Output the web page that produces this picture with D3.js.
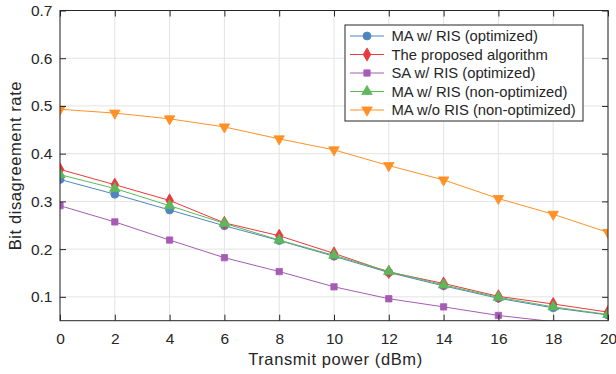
<!DOCTYPE html>
<html>
<head>
<meta charset="utf-8">
<script src="https://cdn.jsdelivr.net/npm/d3@7"></script>
<style>
html,body{margin:0;padding:0;background:#fff;}
svg text{font-family:"Liberation Sans",Arial,Helvetica,sans-serif;fill:#262626;}
</style>
</head>
<body>
<svg id="chart" width="616" height="374"></svg>
<script>
const xValues = [0, 2, 4, 6, 8, 10, 12, 14, 16, 18, 20];
const seriesNames = [
  "MA w/ RIS (optimized)",
  "The proposed algorithm",
  "SA w/ RIS (optimized)",
  "MA w/ RIS (non-optimized)",
  "MA w/o RIS (non-optimized)"
];
const maRisOpt   = [0.346, 0.315, 0.282, 0.249, 0.218, 0.185, 0.151, 0.123, 0.097, 0.077, 0.062];
const proposed   = [0.367, 0.335, 0.302, 0.255, 0.228, 0.191, 0.152, 0.128, 0.101, 0.085, 0.068];
const saRisOpt   = [0.291, 0.257, 0.219, 0.182, 0.153, 0.121, 0.096, 0.079, 0.061, 0.048, 0.038];
const maRisNonOpt= [0.356, 0.327, 0.291, 0.254, 0.219, 0.187, 0.153, 0.125, 0.099, 0.079, 0.063];
const maNoRis    = [0.493, 0.485, 0.473, 0.456, 0.431, 0.408, 0.375, 0.345, 0.306, 0.273, 0.235];
const xTicks = [0, 2, 4, 6, 8, 10, 12, 14, 16, 18, 20];
const yTicks = [0.1, 0.2, 0.3, 0.4, 0.5, 0.6, 0.7];
const xLabel = "Transmit power (dBm)";
const yLabel = "Bit disagreement rate";

const seriesValues = [maRisOpt, proposed, saRisOpt, maRisNonOpt, maNoRis];
const colors = ["#4f86bd", "#e8393c", "#a65cb5", "#5cb85a", "#ff9126"];
const symbols = [d3.symbolCircle, d3.symbolDiamond, d3.symbolSquare, d3.symbolTriangle, "tridown"];
const symSizes = [50, 50, 40, 48, 48];

const svg = d3.select("#chart");
const L = 60, R = 608, T = 10.5, B = 320.7;
const x = d3.scaleLinear().domain([0, 20]).range([L, R]);
const y = d3.scaleLinear().domain([0.05, 0.7]).range([B, T]);
const axisCol = "#262626";

// grid
const g = svg.append("g");
g.selectAll(".gx").data(xTicks).enter().append("line")
  .attr("x1", d => x(d)).attr("x2", d => x(d)).attr("y1", T).attr("y2", B)
  .attr("stroke", "#e3e3e3").attr("stroke-width", 1);
g.selectAll(".gy").data(yTicks).enter().append("line")
  .attr("x1", L).attr("x2", R).attr("y1", d => y(d)).attr("y2", d => y(d))
  .attr("stroke", "#e3e3e3").attr("stroke-width", 1);

// clip
svg.append("clipPath").attr("id", "clip").append("rect")
  .attr("x", L).attr("y", T).attr("width", R - L).attr("height", B - T);

const plot = svg.append("g").attr("clip-path", "url(#clip)");
const line = d3.line().x((d, i) => x(xValues[i])).y(d => y(d));

function markerPath(k) {
  if (symbols[k] === "tridown") {
    return d3.symbol().type(d3.symbolTriangle).size(symSizes[k])();
  }
  return d3.symbol().type(symbols[k]).size(symSizes[k])();
}
function markerTransform(k, cx, cy) {
  return symbols[k] === "tridown" ? `translate(${cx},${cy}) rotate(180)` : `translate(${cx},${cy})`;
}

seriesValues.forEach((vals, k) => {
  plot.append("path").datum(vals).attr("d", line)
    .attr("fill", "none").attr("stroke", colors[k]).attr("stroke-width", 1);
  plot.selectAll(".m" + k).data(vals.map((v, i) => ({v, i})).filter(d => d.v >= 0.05))
    .enter().append("path")
    .attr("d", markerPath(k))
    .attr("transform", d => markerTransform(k, x(xValues[d.i]), y(d.v)))
    .attr("fill", colors[k]).attr("stroke", colors[k]).attr("stroke-width", 0.8);
});

// axes box
const ax = svg.append("g");
ax.append("rect").attr("x", L).attr("y", T).attr("width", R - L).attr("height", B - T)
  .attr("fill", "none").attr("stroke", axisCol).attr("stroke-width", 1);

const tl = 6;
const xAxisB = d3.axisBottom(x).tickValues(xTicks).tickSizeInner(-tl).tickSizeOuter(0).tickPadding(12);
const xAxisT = d3.axisTop(x).tickValues(xTicks).tickSizeInner(-tl).tickSizeOuter(0).tickFormat("");
const yAxisL = d3.axisLeft(y).tickValues(yTicks).tickSizeInner(-tl).tickSizeOuter(0).tickPadding(7.5).tickFormat(d3.format(".1f"));
const yAxisR = d3.axisRight(y).tickValues(yTicks).tickSizeInner(-tl).tickSizeOuter(0).tickFormat("");

function styleAxis(sel) {
  sel.select(".domain").remove();
  sel.selectAll(".tick line").attr("stroke", axisCol);
  sel.selectAll(".tick text").attr("fill", axisCol).style("font-size", "15.5px")
    .style("font-family", '"Liberation Sans",Arial,sans-serif');
}
ax.append("g").attr("transform", `translate(0,${B})`).call(xAxisB).call(styleAxis);
ax.append("g").attr("transform", `translate(0,${T})`).call(xAxisT).call(styleAxis);
ax.append("g").attr("transform", `translate(${L},0)`).call(yAxisL).call(styleAxis);
ax.append("g").attr("transform", `translate(${R},0)`).call(yAxisR).call(styleAxis);

// labels
svg.append("text").attr("x", 335.5).attr("y", 364.5).attr("text-anchor", "middle")
  .style("font-size", "16.5px").style("letter-spacing", "0.6px").text(xLabel);
svg.append("text").attr("transform", `translate(21,${(T + B) / 2}) rotate(-90)`)
  .attr("text-anchor", "middle").style("font-size", "16.5px").style("letter-spacing", "0.6px").text(yLabel);

// legend
const lg = svg.append("g");
lg.append("rect").attr("x", 345).attr("y", 25).attr("width", 238).attr("height", 96)
  .attr("fill", "#fff").attr("stroke", axisCol).attr("stroke-width", 1);
const rowY = [36, 54.5, 73, 91.5, 110];
seriesNames.forEach((name, k) => {
  const yy = rowY[k];
  lg.append("line").attr("x1", 350).attr("x2", 384).attr("y1", yy).attr("y2", yy)
    .attr("stroke", colors[k]).attr("stroke-width", 1);
  lg.append("path").attr("d", markerPath(k)).attr("transform", markerTransform(k, 367, yy))
    .attr("fill", colors[k]).attr("stroke", colors[k]).attr("stroke-width", 0.8);
  lg.append("text").attr("x", 391.5).attr("y", yy + 5).style("font-size", "14.8px").text(name);
});
</script>
</body>
</html>
